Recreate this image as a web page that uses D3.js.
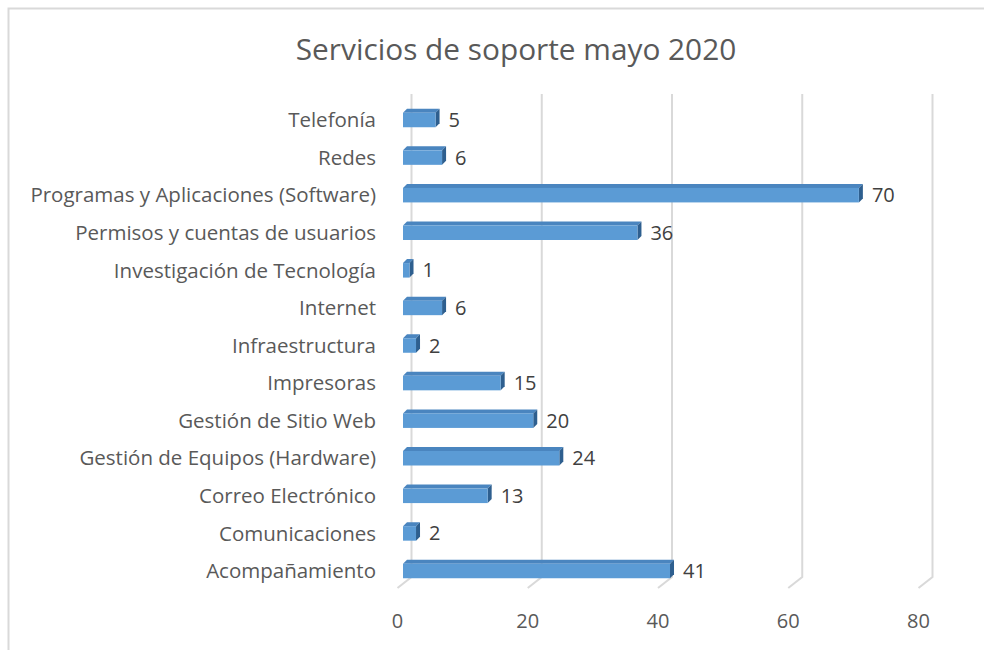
<!DOCTYPE html>
<html>
<head>
<meta charset="utf-8">
<script src="https://cdn.jsdelivr.net/npm/d3@7"></script>
<style>
  body { margin: 0; background: #fff; }
  text { font-family: 'Open Sans', sans-serif; }
</style>
</head>
<body>
<div id="chart"></div>
<script>
// data, bottom to top as in the source sheet
const categories = ['Acompañamiento', 'Comunicaciones', 'Correo Electrónico', 'Gestión de Equipos (Hardware)',
  'Gestión de Sitio Web', 'Impresoras', 'Infraestructura', 'Internet', 'Investigación de Tecnología',
  'Permisos y cuentas de usuarios', 'Programas y Aplicaciones (Software)', 'Redes', 'Telefonía']
const values = [41, 2, 13, 24, 20, 15, 2, 6, 1, 36, 70, 6, 5]
const ticks = [0, 20, 40, 60, 80]
const title = 'Servicios de soporte mayo 2020'

let size = { width: 984, height: 650 }
let depth = { dx: -14, dy: 11 }   // floor perspective
let barDepth = { dx: 4, dy: -4 }  // bar top/side
let barH = 14.5
let fontSize = '20px'

let svg = d3.select('#chart').append('svg')
            .attr('width', size.width)
            .attr('height', size.height)

svg.append('rect')
   .attr('x', 8.5).attr('y', 8.5)
   .attr('width', 1000).attr('height', 1000)
   .attr('fill', '#fff')
   .attr('stroke', '#d9d9d9')
   .attr('stroke-width', 2)

// back wall scale and bar (front) scale
let xBack = d3.scaleLinear().domain([0, 80]).range([411.5, 932.5])
let xBar = d3.scaleLinear().domain([0, 80]).range([403, 924])
let y = d3.scalePoint().domain(categories.slice().reverse()).range([120, 571])

let wallTop = 94, wallBottom = 577

// gridlines + floor tick lines
let grid = svg.append('g')
grid.selectAll('path.grid')
    .data(ticks)
    .enter().append('path')
    .attr('class', 'grid')
    .attr('d', function(d){
      let x = xBack(d)
      return 'M' + x + ',' + wallTop + 'L' + x + ',' + wallBottom + 'L' + (x + depth.dx) + ',' + (wallBottom + depth.dy)
    })
    .attr('fill', 'none')
    .attr('stroke', '#d9d9d9')
    .attr('stroke-width', 2)

// tick labels
svg.append('g').selectAll('text')
   .data(ticks)
   .enter().append('text')
   .attr('x', function(d){ return xBack(d) + depth.dx })
   .attr('y', 621)
   .attr('dy', '0.35em')
   .attr('text-anchor', 'middle')
   .style('font-size', fontSize)
   .style('fill', '#595959')
   .text(function(d){ return d })

let data = categories.map(function(c, i){ return { cat: c, val: values[i] } })

let bars = svg.append('g').selectAll('g.bar')
   .data(data)
   .enter().append('g')
   .attr('class', 'bar')

bars.append('path')
    .attr('d', function(d){
      let x0 = xBar(0), x1 = xBar(d.val), t = y(d.cat) - barH / 2
      return 'M' + x0 + ',' + t + 'L' + (x0 + barDepth.dx) + ',' + (t + barDepth.dy) +
             'L' + (x1 + barDepth.dx) + ',' + (t + barDepth.dy) + 'L' + x1 + ',' + t + 'Z'
    })
    .attr('fill', '#4a85bf')

bars.append('path')
    .attr('d', function(d){
      let x1 = xBar(d.val), t = y(d.cat) - barH / 2, b = t + barH
      return 'M' + x1 + ',' + t + 'L' + (x1 + barDepth.dx) + ',' + (t + barDepth.dy) +
             'L' + (x1 + barDepth.dx) + ',' + (b + barDepth.dy) + 'L' + x1 + ',' + b + 'Z'
    })
    .attr('fill', '#2e5f8f')

bars.append('rect')
    .attr('x', xBar(0))
    .attr('y', function(d){ return y(d.cat) - barH / 2 })
    .attr('width', function(d){ return xBar(d.val) - xBar(0) })
    .attr('height', barH)
    .attr('fill', '#5b9bd5')

bars.append('text')
    .attr('x', function(d){ return xBar(d.val) + barDepth.dx + 9 })
    .attr('y', function(d){ return y(d.cat) })
    .attr('dy', '0.35em')
    .style('font-size', fontSize)
    .style('fill', '#404040')
    .text(function(d){ return d.val })

// category labels
svg.append('g').selectAll('text')
   .data(categories)
   .enter().append('text')
   .attr('x', 376)
   .attr('y', function(d){ return y(d) })
   .attr('dy', '0.35em')
   .attr('text-anchor', 'end')
   .style('font-size', '20.5px')
   .style('fill', '#595959')
   .text(function(d){ return d })

svg.append('text')
   .attr('x', 516)
   .attr('y', 50)
   .attr('dy', '0.35em')
   .attr('text-anchor', 'middle')
   .style('font-size', '29.8px')
   .style('fill', '#595959')
   .text(title)
</script>
</body>
</html>
